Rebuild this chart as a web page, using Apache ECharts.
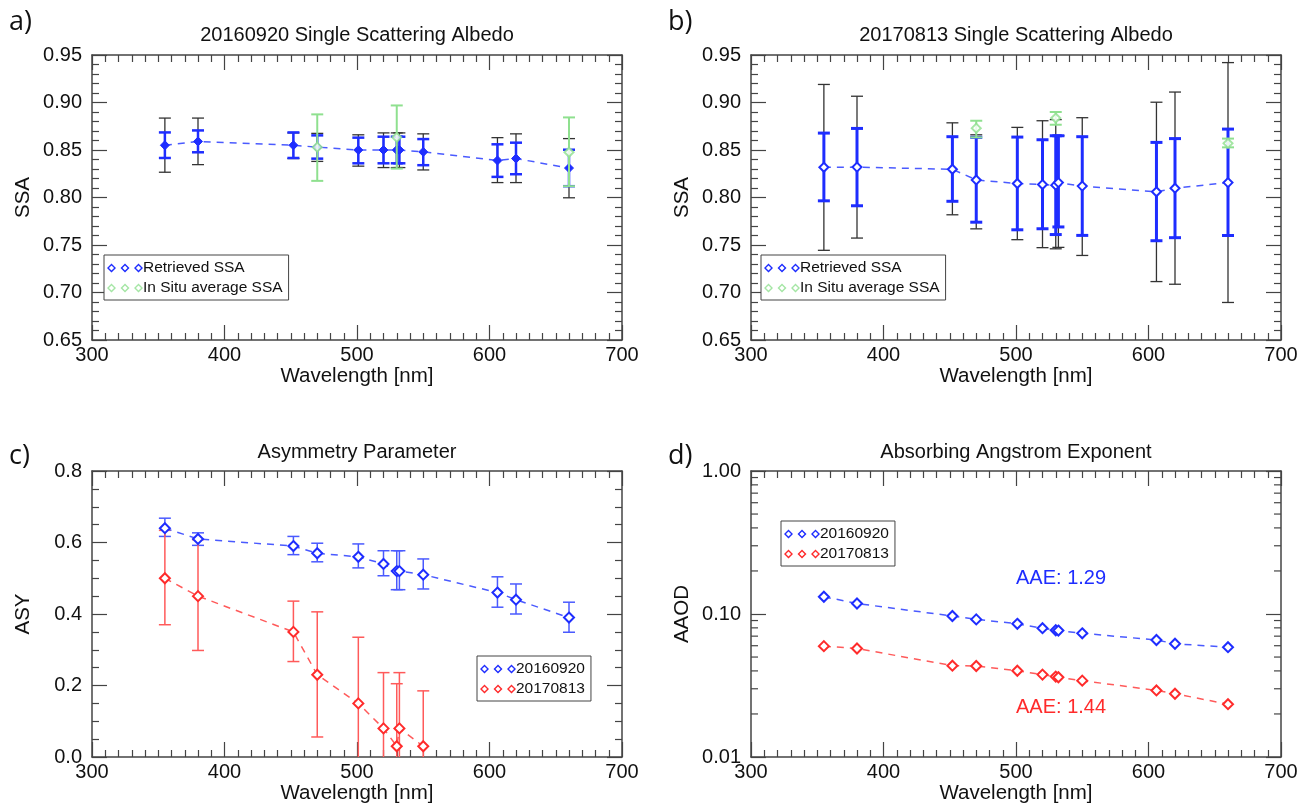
<!DOCTYPE html>
<html><head><meta charset="utf-8">
<script src="https://cdn.jsdelivr.net/npm/echarts@6/dist/echarts.min.js"></script>
<style>html,body{margin:0;padding:0;background:#fff}#c{width:1301px;height:805px}</style>
</head><body><div id="c"></div><script>
// ---------------- DATA ----------------
const wavelengths = [355, 380, 452, 470, 501, 520, 530, 532, 550, 606, 620, 660];
const xTicks = [300, 400, 500, 600, 700];

// a) 20160920 SSA
const ssa2016 = [0.855, 0.859, 0.855, 0.853, 0.850, 0.850, 0.850, 0.850, 0.848, 0.839, 0.841, 0.831];
const ssa2016RetLo = [0.8416, 0.8476, 0.8416, 0.8409, 0.836, 0.836, 0.836, 0.836, 0.834, 0.8217, 0.8245, 0.8119];
const ssa2016RetHi = [0.8685, 0.8706, 0.8685, 0.8654, 0.863, 0.864, 0.864, 0.864, 0.8615, 0.856, 0.8577, 0.8503];
const ssa2016TotLo = [0.8266, 0.8346, 0.841, 0.838, 0.833, 0.8315, 0.8315, 0.8315, 0.829, 0.8157, 0.8157, 0.7997];
const ssa2016TotHi = [0.8836, 0.8836, 0.868, 0.8675, 0.866, 0.868, 0.868, 0.868, 0.867, 0.863, 0.867, 0.862];
const insituWavelengths = [470, 530, 660];
const insitu2016 = [0.853, 0.8633, 0.8476];
const insitu2016Lo = [0.8175, 0.8304, 0.8119];
const insitu2016Hi = [0.8875, 0.8969, 0.8843];

// b) 20170813 SSA
const ssa2017 = [0.8318, 0.832, 0.8297, 0.8185, 0.8147, 0.8136, 0.813, 0.8157, 0.812, 0.806, 0.8098, 0.8157];
const ssa2017RetLo = [0.7965, 0.7913, 0.796, 0.774, 0.766, 0.7671, 0.761, 0.769, 0.7601, 0.7545, 0.7577, 0.760];
const ssa2017RetHi = [0.8678, 0.8727, 0.864, 0.8633, 0.8636, 0.8608, 0.865, 0.865, 0.864, 0.858, 0.862, 0.872];
const ssa2017TotLo = [0.7444, 0.7573, 0.7818, 0.767, 0.7556, 0.7472, 0.746, 0.7475, 0.739, 0.7115, 0.7087, 0.6895];
const ssa2017TotHi = [0.919, 0.9066, 0.8786, 0.866, 0.8738, 0.8808, 0.882, 0.865, 0.884, 0.9003, 0.911, 0.942];
const insitu2017 = [0.873, 0.8836, 0.857];
const insitu2017Lo = [0.8633, 0.8766, 0.8528];
const insitu2017Hi = [0.8808, 0.890, 0.862];

// c) Asymmetry parameter
const asy2016 = [0.64, 0.61, 0.59, 0.57, 0.56, 0.54, 0.52, 0.52, 0.51, 0.46, 0.44, 0.39];
const asy2016Lo = [0.617, 0.592, 0.566, 0.546, 0.529, 0.507, 0.468, 0.468, 0.47, 0.419, 0.40, 0.349];
const asy2016Hi = [0.668, 0.627, 0.617, 0.598, 0.596, 0.577, 0.577, 0.577, 0.554, 0.504, 0.484, 0.433];
const asy2017Wavelengths = [355, 380, 452, 470, 501, 520, 530, 532, 550];
const asy2017 = [0.50, 0.45, 0.35, 0.23, 0.15, 0.08, 0.03, 0.08, 0.03];
const asy2017Lo = [0.37, 0.298, 0.267, 0.056, -0.03, -0.07, -0.14, -0.07, -0.12];
const asy2017Hi = [0.634, 0.608, 0.436, 0.406, 0.335, 0.236, 0.205, 0.236, 0.185];

// d) AAOD
const aaod2016 = [0.132, 0.1184, 0.0968, 0.0917, 0.0854, 0.0796, 0.077, 0.0766, 0.0733, 0.0658, 0.0619, 0.0586];
const aaod2017 = [0.0596, 0.0574, 0.0435, 0.0433, 0.0401, 0.0377, 0.0365, 0.0361, 0.0342, 0.0292, 0.0277, 0.0234];
const logMinorTicks = [0.02, 0.03, 0.04, 0.05, 0.06, 0.07, 0.08, 0.09, 0.2, 0.3, 0.4, 0.5, 0.6, 0.7, 0.8, 0.9];
const aaeLabels = ['AAE: 1.29', 'AAE: 1.44'];

// ---------------- STYLE ----------------
const FONT = "'Liberation Sans', Arial, Helvetica, sans-serif";
const BLUE = '#1e2dff', BLUE_L = '#4a5aff', RED = '#ff2b2b', RED_L = '#ff5a5a', GREEN = '#8fe08f', BLACK = '#333333';
const AX = '#444';

const chart = echarts.init(document.getElementById('c'));

const grids = [
  {left: 92, top: 55, width: 530, height: 285},
  {left: 751, top: 55, width: 530, height: 285},
  {left: 92, top: 471, width: 530, height: 286},
  {left: 751, top: 471, width: 530, height: 286}
];

function xAxes(g) {
  const base = {gridIndex: g, type: 'value', min: xTicks[0], max: xTicks[xTicks.length - 1], interval: 100,
    axisLine: {show: true, onZero: false, lineStyle: {color: AX, width: 1.5}},
    axisTick: {show: true, inside: true, length: 15, lineStyle: {color: AX, width: 1.2}},
    minorTick: {show: true, splitNumber: 10, length: 7, lineStyle: {color: AX, width: 1.2}},
    splitLine: {show: false}};
  return [
    Object.assign({}, base, {position: 'bottom', name: 'Wavelength [nm]', nameLocation: 'middle', nameGap: 25,
      nameTextStyle: {fontFamily: FONT, fontSize: 20.5, color: '#111'},
      axisLabel: {show: true, margin: 5, fontFamily: FONT, fontSize: 20, color: '#111'}}),
    Object.assign({}, base, {position: 'top', axisLabel: {show: false}})
  ];
}
function yAxes(g, min, max, interval, minorSplit, dec, name) {
  const base = {gridIndex: g, type: 'value', min: min, max: max, interval: interval,
    axisLine: {show: true, onZero: false, lineStyle: {color: AX, width: 1.5}},
    axisTick: {show: true, inside: true, length: 15, lineStyle: {color: AX, width: 1.2}},
    minorTick: {show: true, splitNumber: minorSplit, length: 7, lineStyle: {color: AX, width: 1.2}},
    splitLine: {show: false}};
  return [
    Object.assign({}, base, {position: 'left', name: name, nameLocation: 'middle', nameGap: 58, nameRotate: 90,
      nameTextStyle: {fontFamily: FONT, fontSize: 20.5, color: '#111'},
      axisLabel: {show: true, margin: 10, fontFamily: FONT, fontSize: 20, color: '#111', formatter: v => v.toFixed(dec)}}),
    Object.assign({}, base, {position: 'right', axisLabel: {show: false}})
  ];
}
function logYAxes(g, name) {
  const base = {gridIndex: g, type: 'log', logBase: 10, min: 0.01, max: 1,
    axisLine: {show: true, onZero: false, lineStyle: {color: AX, width: 1.5}},
    axisTick: {show: true, inside: true, length: 15, lineStyle: {color: AX, width: 1.2}},
    minorTick: {show: false},
    splitLine: {show: false}};
  return [
    Object.assign({}, base, {position: 'left', name: name, nameLocation: 'middle', nameGap: 58, nameRotate: 90,
      nameTextStyle: {fontFamily: FONT, fontSize: 20.5, color: '#111'},
      axisLabel: {show: true, margin: 10, fontFamily: FONT, fontSize: 20, color: '#111', formatter: v => Number(v).toFixed(2)}}),
    Object.assign({}, base, {position: 'right', axisLabel: {show: false}})
  ];
}

function errBar(color, width, cap) {
  return function (params, api) {
    const x = api.value(0);
    const pLo = api.coord([x, api.value(1)]);
    const pHi = api.coord([x, api.value(2)]);
    const cs = params.coordSys;
    const top = cs.y, bottom = cs.y + cs.height;
    const yLo = Math.min(pLo[1], bottom), yHi = Math.max(pHi[1], top);
    const st = {stroke: color, lineWidth: width};
    const ch = [{type: 'line', shape: {x1: pLo[0], y1: yLo, x2: pLo[0], y2: yHi}, style: st}];
    if (pLo[1] <= bottom + 0.5) ch.push({type: 'line', shape: {x1: pLo[0] - cap, y1: yLo, x2: pLo[0] + cap, y2: yLo}, style: st});
    if (pHi[1] >= top - 0.5) ch.push({type: 'line', shape: {x1: pHi[0] - cap, y1: yHi, x2: pHi[0] + cap, y2: yHi}, style: st});
    return {type: 'group', children: ch};
  };
}
function errSeries(ax, xs, lo, hi, color, width, cap, z) {
  return {type: 'custom', xAxisIndex: ax, yAxisIndex: ax, silent: true, z: z || 2,
    data: xs.map((x, i) => [x, lo[i], hi[i]]), encode: {x: 0, y: [1, 2]},
    renderItem: errBar(color, width, cap)};
}
function lineSeries(ax, name, xs, ys, color, lineColor, size, bw, z, symbol) {
  return {type: 'line', name: name, xAxisIndex: ax, yAxisIndex: ax, z: z || 3,
    data: xs.map((x, i) => [x, ys[i]]),
    symbol: symbol || 'emptyDiamond', symbolSize: size, showSymbol: true,
    itemStyle: {color: color, borderColor: color, borderWidth: bw},
    lineStyle: {color: lineColor, width: 1.5, type: [7, 6]}};
}
function pointSeries(ax, name, xs, ys, color, size, bw, z) {
  return {type: 'scatter', name: name, xAxisIndex: ax, yAxisIndex: ax, z: z || 5,
    data: xs.map((x, i) => [x, ys[i]]),
    symbol: 'emptyDiamond', symbolSize: size,
    itemStyle: {color: color, borderColor: color, borderWidth: bw}};
}

// three hollow diamonds icon
function diamondsPath() {
  let d = '';
  [5, 20, 35].forEach(cx => {
    d += `M${cx} 0L${cx + 5} 5L${cx} 10L${cx - 5} 5Z`;
    d += `M${cx} 2.2L${cx - 2.8} 5L${cx} 7.8L${cx + 2.8} 5Z`;
  });
  return 'path://' + d;
}
const ICON = diamondsPath();
function legend(left, top, items) {
  return {orient: 'vertical', left: left, top: top, selectedMode: false,
    icon: ICON, itemWidth: 36, itemHeight: 9, itemGap: 4,
    padding: [5, 6, 4, 3], borderColor: '#444', borderWidth: 1, backgroundColor: '#fff',
    textStyle: {fontFamily: FONT, fontSize: 15.5, color: '#111', padding: [0, 0, 0, -5]},
    data: items.map(it => ({name: it[0], itemStyle: {color: it[1], borderWidth: 0}}))};
}

const series = [
  // a
  errSeries(0, wavelengths, ssa2016TotLo, ssa2016TotHi, BLACK, 1.3, 6, 2),
  errSeries(0, wavelengths, ssa2016RetLo, ssa2016RetHi, BLUE, 2.5, 6, 2),
  lineSeries(0, 'Retrieved SSA', wavelengths, ssa2016, BLUE, BLUE_L, 9, 1, 3, 'diamond'),
  errSeries(0, insituWavelengths, insitu2016Lo, insitu2016Hi, GREEN, 2, 6, 4),
  pointSeries(0, 'In Situ average SSA', insituWavelengths, insitu2016, GREEN, 9, 2, 5),
  // b
  errSeries(2, wavelengths, ssa2017TotLo, ssa2017TotHi, BLACK, 1.3, 6, 2),
  errSeries(2, wavelengths, ssa2017RetLo, ssa2017RetHi, BLUE, 3, 6, 2),
  lineSeries(2, 'Retrieved SSA', wavelengths, ssa2017, BLUE, BLUE_L, 9, 2, 3),
  errSeries(2, insituWavelengths, insitu2017Lo, insitu2017Hi, GREEN, 2, 6, 4),
  pointSeries(2, 'In Situ average SSA', insituWavelengths, insitu2017, GREEN, 9, 2, 5),
  // c
  errSeries(4, wavelengths, asy2016Lo, asy2016Hi, BLUE_L, 1.5, 6, 2),
  lineSeries(4, '20160920', wavelengths, asy2016, BLUE, BLUE_L, 10, 2, 3),
  errSeries(4, asy2017Wavelengths, asy2017Lo, asy2017Hi, RED_L, 1.5, 6, 2),
  lineSeries(4, '20170813', asy2017Wavelengths, asy2017, RED, RED_L, 10, 2, 3),
  // d
  lineSeries(6, '20160920', wavelengths, aaod2016, BLUE, BLUE_L, 10, 1.7, 3),
  lineSeries(6, '20170813', wavelengths, aaod2017, RED, RED_L, 10, 1.7, 3),
  {type: 'custom', xAxisIndex: 6, yAxisIndex: 6, silent: true, z: 1,
    data: logMinorTicks.map(v => [xTicks[0], v]), encode: {x: 0, y: 1},
    renderItem: function (params, api) {
      const p = api.coord([api.value(0), api.value(1)]);
      const cs = params.coordSys;
      const st = {stroke: AX, lineWidth: 1.2};
      return {type: 'group', children: [
        {type: 'line', shape: {x1: cs.x, y1: p[1], x2: cs.x + 7, y2: p[1]}, style: st},
        {type: 'line', shape: {x1: cs.x + cs.width - 7, y1: p[1], x2: cs.x + cs.width, y2: p[1]}, style: st}
      ]};
    }}
];

function txt(x, y, text, size, color, family, align) {
  return {type: 'text', x: x, y: y, silent: true, z: 10,
    style: {text: text, fontSize: size, fontFamily: family || FONT, fill: color || '#111',
      align: align || 'center', verticalAlign: 'middle'}};
}

const option = {
  animation: false,
  backgroundColor: '#fff',
  grid: grids,
  xAxis: [].concat(xAxes(0), xAxes(1), xAxes(2), xAxes(3)),
  yAxis: [].concat(
    yAxes(0, 0.65, 0.95, 0.05, 5, 2, 'SSA'),
    yAxes(1, 0.65, 0.95, 0.05, 5, 2, 'SSA'),
    yAxes(2, 0.0, 0.8, 0.2, 4, 1, 'ASY'),
    logYAxes(3, 'AAOD')),
  legend: [
    legend(104, 255, [['Retrieved SSA', BLUE], ['In Situ average SSA', GREEN]]),
    legend(761, 255, [['Retrieved SSA', BLUE], ['In Situ average SSA', GREEN]]),
    legend(477, 656, [['20160920', BLUE], ['20170813', RED]]),
    legend(781, 521, [['20160920', BLUE], ['20170813', RED]])
  ],
  graphic: [
    txt(357, 35, '20160920 Single Scattering Albedo', 20),
    txt(1016, 35, '20170813 Single Scattering Albedo', 20),
    txt(357, 452, 'Asymmetry Parameter', 20),
    txt(1016, 452, 'Absorbing Angstrom Exponent', 20),
    txt(9, 22, 'a)', 27, '#111', "'Open Sans'", 'left'),
    txt(668, 22, 'b)', 27, '#111', "'Open Sans'", 'left'),
    txt(9, 456, 'c)', 27, '#111', "'Open Sans'", 'left'),
    txt(668, 456, 'd)', 27, '#111', "'Open Sans'", 'left'),
    txt(1016, 578, aaeLabels[0], 20, BLUE, FONT, 'left'),
    txt(1016, 707, aaeLabels[1], 20, RED, FONT, 'left')
  ],
  series: series
};
chart.setOption(option);
</script></body></html>
